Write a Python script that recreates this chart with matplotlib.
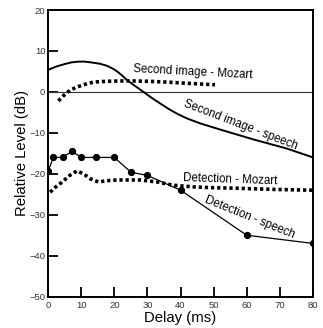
import matplotlib
matplotlib.use("Agg")
import matplotlib.pyplot as plt

plt.rcParams['font.family'] = ['Liberation Sans', 'DejaVu Sans']

# second image - speech (solid)
si_speech_x = [0, 2.5, 5, 7, 9.2, 11, 13, 15.5, 17.7, 19.5, 21, 22.5, 23.8, 26.5, 28.8, 31, 33.8, 36.5, 38.9, 42, 46, 52, 57, 62, 67, 72, 76, 80]
si_speech_y = [5.4, 6.2, 6.8, 7.2, 7.4, 7.4, 7.2, 6.9, 6.4, 5.7, 4.9, 3.9, 2.9, 1.3, 0.0, -1.3, -2.8, -4.2, -5.3, -6.5, -7.7, -9.2, -10.4, -11.6, -12.7, -13.8, -14.9, -16.0]

# second image - Mozart (dotted)
si_mozart_x = [3.1, 4.8, 6.6, 8.7, 10.7, 13.7, 18, 23.8, 30, 35.9, 42, 50.4]
si_mozart_y = [-2.2, -0.8, 0.4, 1.2, 1.75, 2.4, 2.6, 2.7, 2.6, 2.4, 2.1, 1.75]

# detection - speech (measured points)
det_speech_x = [0, 1.6, 4.4, 7.2, 10, 14.5, 20, 25, 30, 40, 60, 80]
det_speech_y = [-19.3, -16.0, -16.0, -14.5, -16.0, -16.0, -16.0, -19.6, -20.4, -24.0, -35.0, -37.0]

# detection - Mozart (dotted)
det_mozart_x = [0.6, 2.3, 4.1, 6.5, 8.7, 10.7, 12.7, 15.2, 17.5, 20.8, 27.8, 33, 37.9, 44, 50, 56, 68, 79.7]
det_mozart_y = [-24.5, -23.2, -22.1, -20.4, -19.3, -20.0, -21.2, -22.0, -21.7, -21.5, -21.5, -22.0, -22.8, -23.2, -23.4, -23.5, -23.8, -24.0]

fig = plt.figure(figsize=(3.23, 3.28), dpi=100)
ax = fig.add_axes([0.149, 0.0955, 0.82, 0.874])

ax.axhline(0, color='#333333', lw=0.8)
ax.plot(si_speech_x, si_speech_y, color='black', lw=1.4)
ax.plot(si_mozart_x, si_mozart_y, color='black', lw=2.6, linestyle=(0, (0.9, 0.8)))
ax.plot(det_speech_x, det_speech_y, color='black', lw=0.9, marker='o', ms=4.2)
ax.plot(det_mozart_x, det_mozart_y, color='black', lw=2.6, linestyle=(0, (0.9, 0.8)))

ax.text(43.8, 4.9, 'Second image - Mozart', fontsize=8.3, ha='center', va='center', rotation=-3)
ax.text(58, -8.0, 'Second image - speech', fontsize=8.3, ha='center', va='center', rotation=-21)
ax.text(55, -21.4, 'Detection - Mozart', fontsize=8.3, ha='center', va='center', rotation=-2)
ax.text(61, -30.6, 'Detection - speech', fontsize=8.3, ha='center', va='center', rotation=-22)

ax.set_xlim(0, 80)
ax.set_ylim(-50, 20)
ax.set_xticks(range(0, 81, 10))
ax.set_yticks(range(-50, 21, 10))
ax.tick_params(direction='in', length=7.5, width=1.3, labelsize=6.8, labelcolor='#333333')
ax.tick_params(axis='x', pad=3)
ax.tick_params(axis='y', pad=2)
for s in ax.spines.values():
    s.set_linewidth(1.4)

ax.set_xlabel('Delay (ms)', fontsize=10.7, labelpad=1)
ax.set_ylabel('Relative Level (dB)', fontsize=10.7, labelpad=0)

fig.savefig('out.png', dpi=100)
